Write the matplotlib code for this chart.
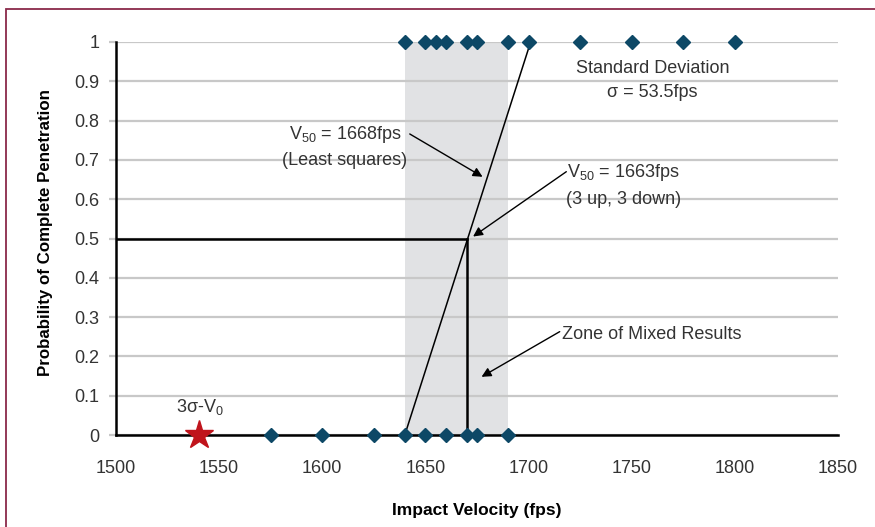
import numpy as np
import matplotlib.pyplot as plt
from matplotlib.patches import Rectangle

plt.rcParams['font.family'] = ['Liberation Sans', 'DejaVu Sans']
plt.rcParams['mathtext.fontset'] = 'custom'
plt.rcParams['mathtext.rm'] = 'Liberation Sans'
plt.rcParams['mathtext.it'] = 'Liberation Sans'

# Дані: результати пострілів (1 - пробиття, 0 - ні)
perforated_v = [1640, 1650, 1655, 1660, 1670, 1675, 1690, 1700, 1725, 1750, 1775, 1800]
stopped_v = [1575, 1600, 1625, 1640, 1650, 1660, 1670, 1675, 1690]
v0_3sigma = 1540

# Лінія найменших квадратів і V50 (3 up, 3 down)
ls_x = [1640, 1701]
ls_y = [0, 1]
v50_x = 1670
v50_p = 0.5
zone = (1640, 1690)

x_ticks = [1500, 1550, 1600, 1650, 1700, 1750, 1800, 1850]
y_ticks = [0, 0.1, 0.2, 0.3, 0.4, 0.5, 0.6, 0.7, 0.8, 0.9, 1]
y_labels = ['0', '0.1', '0.2', '0.3', '0.4', '0.5', '0.6', '0.7', '0.8', '0.9', '1']

fig = plt.figure(figsize=(8.75, 5.27), dpi=100)
ax = fig.add_axes([116 / 875, 1 - 435 / 527, 722 / 875, 393 / 527])

# Рамка навколо рисунка
top = 1 - 9 / 527
fig.patches.append(Rectangle((6 / 875, -0.2), 1.2, top + 0.2, transform=fig.transFigure,
                             fill=False, edgecolor='#8a2a4a', lw=1.3))

ax.axvspan(zone[0], zone[1], color='#e1e2e4', zorder=0, lw=0)
ax.set_axisbelow(True)
ax.yaxis.grid(True, color='#c8c8c8', lw=1.6)

ax.plot(ls_x, ls_y, color='black', lw=1.1, zorder=2)
ax.plot([1500, v50_x], [v50_p, v50_p], color='black', lw=1.8, zorder=2)
ax.plot([v50_x, v50_x], [0, v50_p], color='black', lw=1.8, zorder=2)

ax.plot(perforated_v, np.ones(len(perforated_v)), 'D', color='#0d4866', ms=7.5,
        clip_on=False, zorder=5)
ax.plot(stopped_v, np.zeros(len(stopped_v)), 'D', color='#0d4866', ms=7.5,
        clip_on=False, zorder=5)
ax.plot([v0_3sigma], [0], '*', color='#c0141c', ms=21, clip_on=False, zorder=5)

ax.set_xlim(1500, 1850)
ax.set_ylim(0, 1)
ax.set_xticks(x_ticks)
ax.set_yticks(y_ticks)
ax.set_yticklabels(y_labels)

for s in ['top', 'right']:
    ax.spines[s].set_visible(False)
for s in ['left', 'bottom']:
    ax.spines[s].set_linewidth(1.8)
    ax.spines[s].set_zorder(3)

ax.tick_params(axis='x', length=0, pad=18, labelsize=13, labelcolor='#333333')
ax.tick_params(axis='y', length=5, width=1.6, color='#c8c8c8', pad=7,
               labelsize=13, labelcolor='#333333')

ax.set_xlabel('Impact Velocity (fps)', fontsize=12.5, fontweight='bold', labelpad=19)
ax.set_ylabel('Probability of Complete Penetration', fontsize=12.2, fontweight='bold')
ax.yaxis.set_label_coords(-0.087, 0.516)

tc = '#333333'
ax.text(1760, 0.903, 'Standard Deviation\nσ = 53.5fps', ha='center', va='center',
        fontsize=13, color=tc, linespacing=1.55)
ax.text(1611, 0.734, 'V$_{50}$ = 1668fps\n(Least squares)', ha='center', va='center',
        fontsize=13, color=tc, linespacing=1.55)
ax.text(1746, 0.636, 'V$_{50}$ = 1663fps\n(3 up, 3 down)', ha='center', va='center',
        fontsize=13, color=tc, linespacing=1.55)
ax.text(1716, 0.2545, 'Zone of Mixed Results', ha='left', va='center',
        fontsize=13, color=tc)
ax.text(1540.7, 0.072, '3σ-V$_0$', ha='center', va='center', fontsize=13, color=tc)

arrow = dict(arrowstyle='-|>', color='black', lw=1.0, mutation_scale=14, shrinkA=0, shrinkB=0)
ax.annotate('', xy=(1677.7, 0.657), xytext=(1642.4, 0.766), arrowprops=arrow)
ax.annotate('', xy=(1673.1, 0.505), xytext=(1718.3, 0.670), arrowprops=arrow)
ax.annotate('', xy=(1677.2, 0.148), xytext=(1715.1, 0.263), arrowprops=arrow)

fig.savefig('out.png', dpi=100)
